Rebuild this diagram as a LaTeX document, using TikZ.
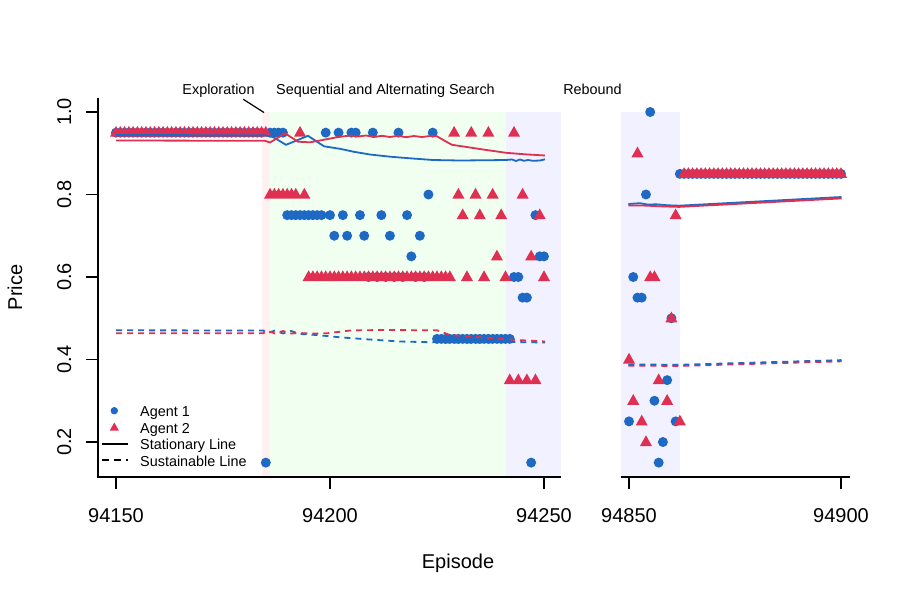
\documentclass[tikz,border=0pt]{standalone}
\usepackage{fontspec}
\setmainfont{Liberation Sans}
\definecolor{agA}{RGB}{30,105,195}
\definecolor{agB}{RGB}{223,48,82}
\definecolor{shExp}{RGB}{255,240,241}
\definecolor{shSeq}{RGB}{241,255,241}
\definecolor{shReb}{RGB}{241,241,255}
\tikzset{
  axisline/.style={line width=1.5pt, black},
  statline/.style={line width=1.8pt},
  sustline/.style={line width=1.8pt, dash pattern=on 6pt off 5pt},
  ticklab/.style={font=\fontsize{20}{24}\selectfont, inner sep=0pt, anchor=base},
  axlab/.style={font=\fontsize{20}{24}\selectfont, inner sep=0pt, anchor=base},
  annot/.style={font=\fontsize{14.4}{17}\selectfont, inner sep=0pt, anchor=base},
  legtext/.style={font=\fontsize{14.4}{17}\selectfont, inner sep=0pt, anchor=base west},
}
\begin{document}
\begin{tikzpicture}[x=1pt,y=-1pt]
\useasboundingbox (0,0) rectangle (900,600);
\fill[white] (0,0) rectangle (900,600);
% shading
\fill[shExp] (261.5,112) rectangle (270.1,477);
\fill[shSeq] (270.1,112) rectangle (505.5,477);
\fill[shReb] (505.5,112) rectangle (561.1,477);
\fill[shReb] (620.5,112) rectangle (679.9,477);
% axes
\draw[axisline] (98,98) -- (98,477) -- (561.1,477);
\draw[axisline] (620.5,477) -- (849.5,477);
\foreach \yy in {442,359.5,277,194.5,112} \draw[axisline] (98,\yy) -- (86,\yy);
\foreach \xx in {116,330,544,629,841} \draw[axisline] (\xx,477) -- (\xx,489);
% tick labels
\node[ticklab] (x1) at (116,522) {94150};
\node[ticklab] (x2) at (330,522) {94200};
\node[ticklab] (x3) at (544,522) {94250};
\node[ticklab] (x4) at (629,522) {94850};
\node[ticklab] (x5) at (841,522) {94900};
\node[ticklab,rotate=90] (y1) at (71,442) {0.2};
\node[ticklab,rotate=90] (y2) at (71,359.5) {0.4};
\node[ticklab,rotate=90] (y3) at (71,277) {0.6};
\node[ticklab,rotate=90] (y4) at (71,194.5) {0.8};
\node[ticklab,rotate=90] (y5) at (71,112) {1.0};
\node[axlab] (xlab) at (458,568) {Episode};
\node[axlab,rotate=90] (ylab) at (22,287.5) {Price};
% annotations
\node[annot] (exploration) at (218.5,94.3) {Exploration};
\node[annot] (seqsearch) at (385.5,94.3) {Sequential and Alternating Search};
\node[annot] (rebound) at (592.5,94.3) {Rebound};
\coordinate (exA) at (243.3,99.3);
\coordinate (exB) at (264,112.5);
\draw[line width=1.2pt] (exA) -- (exB);
% ---- left panel agent 1 (circles)
\fill[agA] foreach \i/\p in {0/0.95,1/0.95,2/0.95,3/0.95,4/0.95,5/0.95,6/0.95,7/0.95,8/0.95,9/0.95,10/0.95,11/0.95,12/0.95,13/0.95,14/0.95,15/0.95,16/0.95,17/0.95,18/0.95,19/0.95,20/0.95,21/0.95,22/0.95,23/0.95,24/0.95,25/0.95,26/0.95,27/0.95,28/0.95,29/0.95,30/0.95,31/0.95,32/0.95,33/0.95,34/0.95,35/0.15,36/0.95,37/0.95,38/0.95,39/0.95,40/0.75,41/0.75,42/0.75,43/0.75,44/0.75,45/0.75,46/0.75,47/0.75,48/0.75,49/0.95,50/0.75,51/0.7,52/0.95,53/0.75,54/0.7,55/0.95,56/0.95,57/0.75,58/0.7,59/0.6,60/0.95,61/0.6,62/0.75,63/0.6,64/0.7,65/0.6,66/0.95,67/0.6,68/0.75,69/0.65,70/0.6,71/0.7,72/0.6,73/0.8,74/0.95,75/0.45,76/0.45,77/0.45,78/0.45,79/0.45,80/0.45,81/0.45,82/0.45,83/0.45,84/0.45,85/0.45,86/0.45,87/0.45,88/0.45,89/0.45,90/0.45,91/0.45,92/0.45,93/0.6,94/0.6,95/0.55,96/0.55,97/0.15,98/0.75,99/0.65,100/0.65}
  {({116+4.28*\i},{112+(1-\p)*412.5}) circle[radius=5]};
% ---- left panel agent 2 (triangles)
\fill[agB] foreach \i/\p in {0/0.95,1/0.95,2/0.95,3/0.95,4/0.95,5/0.95,6/0.95,7/0.95,8/0.95,9/0.95,10/0.95,11/0.95,12/0.95,13/0.95,14/0.95,15/0.95,16/0.95,17/0.95,18/0.95,19/0.95,20/0.95,21/0.95,22/0.95,23/0.95,24/0.95,25/0.95,26/0.95,27/0.95,28/0.95,29/0.95,30/0.95,31/0.95,32/0.95,33/0.95,34/0.95,35/0.95,36/0.8,37/0.8,38/0.8,39/0.8,40/0.8,41/0.8,42/0.8,43/0.95,44/0.8,45/0.6,46/0.6,47/0.6,48/0.6,49/0.6,50/0.6,51/0.6,52/0.6,53/0.6,54/0.6,55/0.6,56/0.6,57/0.6,58/0.6,59/0.6,60/0.6,61/0.6,62/0.6,63/0.6,64/0.6,65/0.6,66/0.6,67/0.6,68/0.6,69/0.6,70/0.6,71/0.6,72/0.6,73/0.6,74/0.6,75/0.6,76/0.6,77/0.6,78/0.6,79/0.95,80/0.8,81/0.75,82/0.6,83/0.95,84/0.8,85/0.75,86/0.6,87/0.95,88/0.8,89/0.65,90/0.75,91/0.6,92/0.35,93/0.95,94/0.35,95/0.8,96/0.35,97/0.65,98/0.35,99/0.75,100/0.6}
  {({116+4.28*\i},{112+(1-\p)*412.5}) ++(0,-6.7) -- ++(6,10.7) -- ++(-12,0) -- cycle};
% ---- right panel agent 1
\fill[agA] foreach \j/\p in {0/0.25,1/0.6,2/0.55,3/0.55,4/0.8,5/1.0,6/0.3,7/0.15,8/0.2,9/0.35,10/0.5,11/0.25,12/0.85,13/0.85,14/0.85,15/0.85,16/0.85,17/0.85,18/0.85,19/0.85,20/0.85,21/0.85,22/0.85,23/0.85,24/0.85,25/0.85,26/0.85,27/0.85,28/0.85,29/0.85,30/0.85,31/0.85,32/0.85,33/0.85,34/0.85,35/0.85,36/0.85,37/0.85,38/0.85,39/0.85,40/0.85,41/0.85,42/0.85,43/0.85,44/0.85,45/0.85,46/0.85,47/0.85,48/0.85,49/0.85,50/0.85}
  {({629+4.24*\j},{112+(1-\p)*412.5}) circle[radius=5]};
% ---- right panel agent 2
\fill[agB] foreach \j/\p in {0/0.4,1/0.3,2/0.9,3/0.25,4/0.2,5/0.6,6/0.6,7/0.35,9/0.3,10/0.5,11/0.75,12/0.25,13/0.85,14/0.85,15/0.85,16/0.85,17/0.85,18/0.85,19/0.85,20/0.85,21/0.85,22/0.85,23/0.85,24/0.85,25/0.85,26/0.85,27/0.85,28/0.85,29/0.85,30/0.85,31/0.85,32/0.85,33/0.85,34/0.85,35/0.85,36/0.85,37/0.85,38/0.85,39/0.85,40/0.85,41/0.85,42/0.85,43/0.85,44/0.85,45/0.85,46/0.85,47/0.85,48/0.85,49/0.85,50/0.85}
  {({629+4.24*\j},{112+(1-\p)*412.5}) ++(0,-6.7) -- ++(6,10.7) -- ++(-12,0) -- cycle};
% ---- lines left
\draw[statline,agA] plot coordinates {(116,135) (265,135.3) (273,137) (286,144.8) (308,135.8) (324,146.3) (340,148.8) (354,151.8) (370,154.5) (390,156.7) (410,158.3) (433,160) (460,160.5) (490,160.2) (506,160) (512,159.5) (516,161) (520,159.5) (524,160.8) (528,160) (533,160.8) (540,160.5) (545,159.3)};
\draw[statline,agB] plot coordinates {(116,140.5) (265,140.8) (270,142.5) (285,133.3) (298,141.7) (310,142.3) (320,140.5) (336.7,137.3) (350,135.5) (358,136.5) (366,135.5) (374,137) (382,135.8) (390,137) (398,135.8) (406,137.2) (414,136) (422,137) (430,136) (437,136.3) (445,141) (452,144.8) (470,147.5) (483,149.5) (506,152.8) (525,154.3) (545,155.5)};
\draw[sustline,agA] plot coordinates {(116,330.3) (263,330.5) (268,333) (275,330.5) (283,333.5) (291,331) (300,334) (310,334.5) (327,336) (340,337.3) (366.7,339.3) (400,341.5) (433,342.3) (480,342.5) (513,342) (545,342.5)};
\draw[sustline,agB] plot coordinates {(116,333.3) (263,333.3) (268,331) (275,333.5) (283,331) (291,333.5) (300,333) (310,333.5) (327,333.3) (350,330.5) (380,330) (437,330.3) (450,335) (483,337.5) (517,340) (545,341.5)};
% ---- lines right
\draw[statline,agA] plot coordinates {(628.3,204) (640,203.2) (648,204.6) (656,204.3) (668,205.3) (679,205.7) (841.5,197)};
\draw[statline,agB] plot coordinates {(628.3,205.4) (645,205.6) (660,206.3) (679,206.9) (841.5,198.4)};
\draw[sustline,agB] plot coordinates {(628.3,365.6) (679,366) (841.5,361.3)};
\draw[sustline,agA] plot coordinates {(628.3,364.4) (679,364.8) (841.5,360.1)};
% ---- legend
\fill[agA] (114.3,410.7) circle[radius=3.7];
\fill[agB] (114.3,427.3) ++(0,-4.8) -- ++(4.5,8) -- ++(-9,0) -- cycle;
\coordinate (lsA) at (101.7,444);
\coordinate (lsB) at (128.3,444);
\coordinate (ldA) at (101.7,460);
\coordinate (ldB) at (128.3,460);
\draw[line width=1.5pt] (lsA) -- (lsB);
\draw[line width=1.5pt, dash pattern=on 7pt off 5pt] (ldA) -- (ldB);
\node[legtext] (leg1) at (140,416.5) {Agent 1};
\node[legtext] (leg2) at (140,433) {Agent 2};
\node[legtext] (leg3) at (140,449.5) {Stationary Line};
\node[legtext] (leg4) at (140,466) {Sustainable Line};
\end{tikzpicture}
\end{document}
